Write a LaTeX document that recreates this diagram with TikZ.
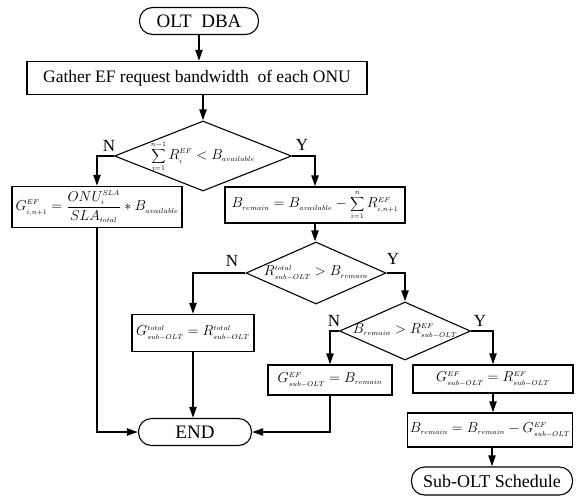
\documentclass[tikz,border=0pt]{standalone}
\usepackage{fontspec}
\setmainfont{Liberation Serif}
\DeclareMathSizes{14}{14}{7.5}{6}
\usetikzlibrary{shapes.geometric,arrows.meta}
\begin{document}
\begin{tikzpicture}[x=1pt,y=-1pt,
  box/.style={draw,line width=1.1pt,rectangle,inner sep=0pt,font=\fontsize{14}{16}\selectfont},
  term/.style={draw,line width=1.1pt,rectangle,rounded corners=13pt,inner sep=0pt,font=\fontsize{19}{22}\selectfont},
  dec/.style={draw,line width=1.1pt,diamond,inner sep=0pt,aspect=1,font=\fontsize{14}{16}\selectfont},
  conn/.style={line width=2pt,-{Triangle[length=11pt,width=7pt]}},
  yn/.style={font=\fontsize{17}{20}\selectfont,inner sep=0pt}]
\useasboundingbox (0,0) rectangle (577,499);
% nodes
\node[term,minimum width=119pt,minimum height=27pt] (start) at (199,21) {OLT\ \ DBA};
\node[box,minimum width=340pt,minimum height=33pt,font=\fontsize{17.5}{20}\selectfont] (gather) at (197,78) {Gather EF request bandwidth\ \ of each ONU};
\node[dec,minimum width=177pt,minimum height=70pt] (d1) at (203,156) {\makebox[0pt]{\raisebox{-1pt}{$\displaystyle\sum_{i=1}^{n-1} R_i^{EF} < B_{available}$}}};
\node[box,minimum width=170pt,minimum height=41pt] (b1) at (97,207) {$\displaystyle G_{i,n+1}^{EF}=\frac{ONU_i^{SLA}}{SLA_{total}}*B_{available}$};
\node[box,minimum width=180pt,minimum height=36pt] (b2) at (315,205) {$B_{remain}=B_{available}-\displaystyle\sum_{i=1}^{n} R_{i,n+1}^{EF}$};
\node[dec,minimum width=140pt,minimum height=62pt] (d2) at (316,273) {\makebox[0pt]{$R_{sub-OLT}^{total} > B_{remain}$}};
\node[box,minimum width=122pt,minimum height=37pt] (b3) at (193,333) {$G_{sub-OLT}^{total}=R_{sub-OLT}^{total}$};
\node[dec,minimum width=131pt,minimum height=58pt] (d3) at (405,331) {\makebox[0pt]{$B_{remain} > R_{sub-OLT}^{EF}$}};
\node[box,minimum width=124pt,minimum height=30pt] (b4) at (330,380) {$G_{sub-OLT}^{EF}=B_{remain}$};
\node[box,minimum width=160pt,minimum height=28pt] (b5) at (493,379) {$G_{sub-OLT}^{EF}=R_{sub-OLT}^{EF}$};
\node[box,minimum width=165pt,minimum height=34pt] (b6) at (490,430) {$B_{remain}=B_{remain}-G_{sub-OLT}^{EF}$};
\node[term,minimum width=161pt,minimum height=28pt,font=\fontsize{18}{21}\selectfont] (sub) at (492,481) {Sub-OLT Schedule};
\node[term,minimum width=113pt,minimum height=27pt] (end) at (195,432) {END};
% labels
\node[yn] (n1) at (109,146) {N};
\node[yn] (y1) at (302,145) {Y};
\node[yn] (n2) at (232,261) {N};
\node[yn] (y2) at (393,259) {Y};
\node[yn] (n3) at (334,321) {N};
\node[yn] (y3) at (480,321) {Y};
% connectors
\draw[conn] (start.south) -- (start.south |- gather.north);
\draw[conn] (d1.north |- gather.south) -- (d1.north);
\draw[conn] (d1.west) -| (b1.north);
\draw[conn] (d1.east) -| (b2.north);
\draw[conn] (b2.south) -- (b2.south |- d2.north);
\draw[conn] (d2.west) -| (b3.north);
\draw[conn] (d2.east) -| (d3.north);
\draw[conn] (d3.west) -| (b4.north);
\draw[conn] (d3.east) -| (b5.north);
\draw[conn] (b5.south) -- (b5.south |- b6.north);
\draw[conn] (sub.north |- b6.south) -- (sub.north);
\draw[conn] (b1.south) |- (end.west);
\draw[conn] (b3.south) -- (b3.south |- end.north);
\draw[conn] (b4.south) |- (end.east);
\end{tikzpicture}
\end{document}
